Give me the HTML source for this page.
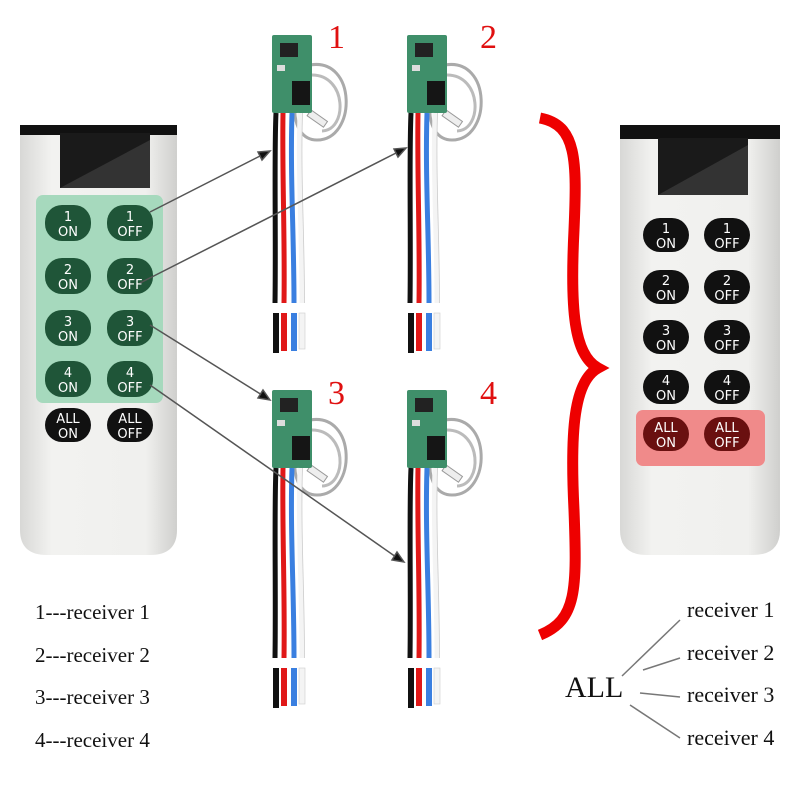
<!DOCTYPE html>
<html><head><meta charset="utf-8"><style>
html,body{margin:0;padding:0;background:#fff;width:800px;height:800px;overflow:hidden}
svg{display:block}
.bt{font-family:"DejaVu Sans","Liberation Sans",sans-serif;font-size:13px;fill:#fff;text-anchor:middle}
.lb{font-family:"Liberation Serif",serif;font-size:22px;fill:#111}
.lb2{font-family:"Liberation Serif",serif;font-size:21px;fill:#111}
.num{font-family:"Liberation Serif",serif;font-size:34px;fill:#e01010}
</style></head><body>
<svg width="800" height="800" viewBox="0 0 800 800" xmlns="http://www.w3.org/2000/svg">
<defs>
<linearGradient id="body" x1="0" x2="1"><stop offset="0" stop-color="#d8d8d6"/><stop offset="0.2" stop-color="#f2f2f0"/><stop offset="0.8" stop-color="#f0f0ee"/><stop offset="1" stop-color="#cfcfcd"/></linearGradient>
<g id="rcv">
  <path d="M38 30 C85 22 85 105 45 105 C15 105 18 50 38 40" fill="none" stroke="#aaa" stroke-width="3"/>
  <path d="M40 40 C75 40 76 95 50 96" fill="none" stroke="#bbb" stroke-width="3"/>
  <rect x="35" y="80" width="20" height="7" fill="#eee" stroke="#999" transform="rotate(35 45 84)"/>
  <rect x="0" y="0" width="40" height="78" rx="2" fill="#3f8f6a"/>
  <rect x="8" y="8" width="18" height="14" fill="#222"/>
  <rect x="20" y="46" width="18" height="24" fill="#151515"/>
  <rect x="5" y="30" width="8" height="6" fill="#ddd"/>
  <path d="M4 78 C2 120 4 200 3 268" stroke="#111" stroke-width="5" fill="none"/>
  <path d="M11 78 C10 140 13 200 12 268" stroke="#e01818" stroke-width="5" fill="none"/>
  <path d="M20 78 C18 140 22 200 22 268" stroke="#3a7fe0" stroke-width="5" fill="none"/>
  <path d="M28 78 C26 140 30 200 30 268" stroke="#f4f4f4" stroke-width="5" fill="none"/>
  <path d="M28 78 C26 140 30 200 30 268" stroke="#ccc" stroke-width="0.8" fill="none" transform="translate(2.5 0)"/>
  <rect x="1" y="278" width="6" height="40" fill="#111"/>
  <rect x="9" y="278" width="6" height="38" fill="#e01818"/>
  <rect x="19" y="278" width="6" height="38" fill="#3a7fe0"/>
  <rect x="27" y="278" width="6" height="36" fill="#f4f4f4" stroke="#ccc" stroke-width="0.6"/>
</g>
</defs>

<path d="M20 130 H177 V530 Q177 555 150 555 H47 Q20 555 20 530 Z" fill="url(#body)"/>
<rect x="20" y="125" width="157" height="10" fill="#111"/>
<rect x="60" y="133" width="90" height="55" fill="#1a1a1a"/>
<path d="M60 188 L150 140 V188 Z" fill="#333"/>
<rect x="36" y="195" width="127" height="208" rx="7" fill="#a6d9bd"/>
<g fill="#1f5538">
<rect x="45" y="205" width="46" height="36" rx="17"/><rect x="107" y="205" width="46" height="36" rx="17"/>
<rect x="45" y="258" width="46" height="36" rx="17"/><rect x="107" y="258" width="46" height="36" rx="17"/>
<rect x="45" y="310" width="46" height="36" rx="17"/><rect x="107" y="310" width="46" height="36" rx="17"/>
<rect x="45" y="361" width="46" height="36" rx="17"/><rect x="107" y="361" width="46" height="36" rx="17"/>
</g>
<g fill="#111"><rect x="45" y="408" width="46" height="34" rx="17"/><rect x="107" y="408" width="46" height="34" rx="17"/></g>
<g class="bt">
<text x="68" y="221">1</text><text x="68" y="236">ON</text><text x="130" y="221">1</text><text x="130" y="236">OFF</text>
<text x="68" y="274">2</text><text x="68" y="289">ON</text><text x="130" y="274">2</text><text x="130" y="289">OFF</text>
<text x="68" y="326">3</text><text x="68" y="341">ON</text><text x="130" y="326">3</text><text x="130" y="341">OFF</text>
<text x="68" y="377">4</text><text x="68" y="392">ON</text><text x="130" y="377">4</text><text x="130" y="392">OFF</text>
<text x="68" y="423">ALL</text><text x="68" y="438">ON</text><text x="130" y="423">ALL</text><text x="130" y="438">OFF</text>
</g>

<path d="M620 130 H780 V530 Q780 555 753 555 H647 Q620 555 620 530 Z" fill="url(#body)"/>
<rect x="620" y="125" width="160" height="14" fill="#111"/>
<rect x="658" y="138" width="90" height="57" fill="#1a1a1a"/>
<path d="M658 195 L748 145 V195 Z" fill="#333"/>
<rect x="636" y="410" width="129" height="56" rx="7" fill="#f08a8a"/>
<g fill="#111">
<rect x="643" y="218" width="46" height="34" rx="17"/><rect x="704" y="218" width="46" height="34" rx="17"/>
<rect x="643" y="270" width="46" height="34" rx="17"/><rect x="704" y="270" width="46" height="34" rx="17"/>
<rect x="643" y="320" width="46" height="34" rx="17"/><rect x="704" y="320" width="46" height="34" rx="17"/>
<rect x="643" y="370" width="46" height="34" rx="17"/><rect x="704" y="370" width="46" height="34" rx="17"/>
</g>
<g fill="#6a1010"><rect x="643" y="417" width="46" height="34" rx="17"/><rect x="704" y="417" width="46" height="34" rx="17"/></g>
<g class="bt">
<text x="666" y="233">1</text><text x="666" y="248">ON</text><text x="727" y="233">1</text><text x="727" y="248">OFF</text>
<text x="666" y="285">2</text><text x="666" y="300">ON</text><text x="727" y="285">2</text><text x="727" y="300">OFF</text>
<text x="666" y="335">3</text><text x="666" y="350">ON</text><text x="727" y="335">3</text><text x="727" y="350">OFF</text>
<text x="666" y="385">4</text><text x="666" y="400">ON</text><text x="727" y="385">4</text><text x="727" y="400">OFF</text>
<text x="666" y="432">ALL</text><text x="666" y="447">ON</text><text x="727" y="432">ALL</text><text x="727" y="447">OFF</text>
</g>

<use href="#rcv" x="272" y="35"/>
<use href="#rcv" x="407" y="35"/>
<use href="#rcv" x="272" y="390"/>
<use href="#rcv" x="407" y="390"/>

<text class="num" x="328" y="48">1</text>
<text class="num" x="480" y="48">2</text>
<text class="num" x="328" y="404">3</text>
<text class="num" x="480" y="404">4</text>

<g stroke="#555" stroke-width="1.5" fill="#111">
<line x1="150" y1="212" x2="262" y2="155"/><path d="M270 151 L258 152 L262 160 Z"/>
<line x1="140" y1="283" x2="398" y2="152"/><path d="M406 148 L394 149 L398 157 Z"/>
<line x1="150" y1="325" x2="262" y2="395"/><path d="M270 400 L263 390 L258 398 Z"/>
<line x1="150" y1="385" x2="396" y2="557"/><path d="M404 562 L397 552 L392 560 Z"/>
</g>

<path d="M540 118 C577 125 577 160 574 230 C570 310 574 355 598 368 C574 381 570 430 574 510 C577 590 577 620 540 635" fill="none" stroke="#ee0000" stroke-width="11"/>

<text class="lb2" x="35" y="619">1---receiver 1</text>
<text class="lb2" x="35" y="662">2---receiver 2</text>
<text class="lb2" x="35" y="704">3---receiver 3</text>
<text class="lb2" x="35" y="747">4---receiver 4</text>
<text x="565" y="697" style="font-family:'Liberation Serif',serif;font-size:30px;fill:#111">ALL</text>
<text class="lb" x="687" y="617">receiver 1</text>
<text class="lb" x="687" y="660">receiver 2</text>
<text class="lb" x="687" y="702">receiver 3</text>
<text class="lb" x="687" y="745">receiver 4</text>
<g stroke="#777" stroke-width="1.5">
<line x1="622" y1="676" x2="680" y2="620"/>
<line x1="643" y1="670" x2="680" y2="658"/>
<line x1="640" y1="693" x2="680" y2="697"/>
<line x1="630" y1="705" x2="680" y2="738"/>
</g>
</svg>
</body></html>
